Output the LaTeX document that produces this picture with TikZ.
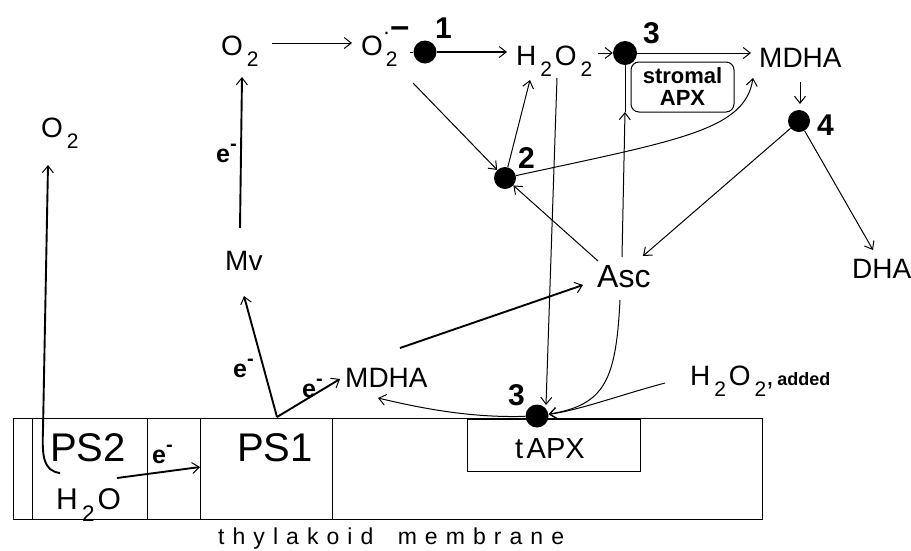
\documentclass[tikz,border=0pt]{standalone}
\usepackage{fontspec}
\setmainfont{Liberation Sans}
\newfontfamily\spacedfont[LetterSpace=35]{Liberation Sans}
\usetikzlibrary{arrows.meta}
\newcommand\fsz[1]{\fontsize{#1}{#1}\selectfont}
\newcommand\lo[1]{\kern0.14em\raisebox{-0.42em}{\scalebox{0.75}{#1}}\kern0.1em}
\newcommand\elec{e\raisebox{0.45em}{\scalebox{0.8}{-}}}
\begin{document}
\begin{tikzpicture}[x=1pt,y=-1pt,
  tip/.style={-{Straight Barb[length=7pt,width=11pt,line width=1pt]}},
  thn/.style={line width=1pt},
  thk/.style={line width=1.9pt},
  lab/.style={inner sep=0pt,anchor=base west,font=\fsz{28}},
  big/.style={inner sep=0pt,anchor=base west,font=\fsz{40}},
  num/.style={inner sep=0pt,anchor=base west,font=\fsz{30}\bfseries},
  el/.style={inner sep=0pt,anchor=base west,font=\fsz{25}\bfseries},
  dot/.style={circle,fill=black,inner sep=0pt,minimum size=23pt},
  boxline/.style={draw,line width=1pt}]
\useasboundingbox (0,0) rectangle (911,550);
% membrane
\draw[boxline] (13,418) rectangle (762,519);
\foreach \x in {32,147,200,332} \draw[thn] (\x,418) -- (\x,519);
\node[boxline,minimum width=173pt,minimum height=52pt,inner sep=0pt] (tapxbox) at (553.5,445) {};
\node[lab,font=\fsz{29}] (tapx) at (515,458) {t\kern0.12em APX};
\node[big] (ps2) at (50,461) {PS2};
\node[big] (ps1) at (237,461) {PS1};
\node[el] (e3) at (152,463) {\elec};
\node[lab,font=\fsz{30}] (h2o) at (56,509) {H\lo{2}O};
\node[inner sep=0pt,anchor=base west,font=\fsz{23}\spacedfont] (thy) at (218,544) {thylakoid\hspace{10pt} membrane};
% labels
\node[lab] (o2l) at (41,137) {O\lo{2}};
\node[lab] (o2m) at (221,55) {O\lo{2}};
\node[lab] (sup) at (361,55) {O\rlap{\raisebox{-0.42em}{\kern0.1em\scalebox{0.75}{2}}}\raisebox{0.55em}{\scalebox{0.8}{·}}\raisebox{0.62em}{\fsz{34}\bfseries –}};
\node[lab] (h2o2) at (516,65) {H\lo{2}O\lo{2}};
\node[lab] (mdhat) at (759,67) {MDHA};
\node[lab] (mv) at (225,270) {Mv};
\node[lab,font=\fsz{32}] (asc) at (597,287) {Asc};
\node[lab] (dha) at (852,278) {DHA};
\node[lab] (mdhab) at (345,387) {MDHA};
\node[lab] (added) at (690,385) {H\lo{2}O\lo{2}\kern-0.1em,\kern0.12em{\fsz{18}\bfseries added}};
\node[el] (e1) at (216,162) {\elec};
\node[el] (e2) at (233,377) {\elec};
\node[el] (e4) at (302,397) {\elec};
% stromal APX box
\node[boxline,rounded corners=8pt,minimum width=103pt,minimum height=50pt,inner sep=0pt,font=\fsz{22}\bfseries,align=center] (sapx) at (682.5,87) {stromal\\APX};
% dots
\node[dot] (d1) at (425,52) {};
\node[dot,minimum size=22pt] (d2) at (505,178) {};
\node[dot,minimum size=24pt] (d3t) at (625,53) {};
\node[dot,minimum size=22pt] (d4) at (799,121) {};
\node[dot] (d3b) at (537,416) {};
\node[num] (n1) at (435,38) {1};
\node[num] (n2) at (518,168) {2};
\node[num] (n3t) at (643,43) {3};
\node[num] (n4) at (817,135) {4};
\node[num] (n3b) at (508,405) {3};
% coordinates
\coordinate (h2oup) at (60,473);
\coordinate (o2lin) at (48,165);
\coordinate (h2oright) at (117,478);
\coordinate (ps1in) at (200,467);
\coordinate (mvtop) at (240,228);
\coordinate (o2min) at (242,77);
\coordinate (o2mout) at (272,43);
\coordinate (supin) at (352,43);
\coordinate (d1tick) at (410,52);
\coordinate (h2o2in) at (507,52);
\coordinate (supout) at (413,83);
\coordinate (h2o2bot) at (530,80);
\coordinate (ascnw) at (598,261);
\coordinate (mdhatin) at (753,78);
\coordinate (h2o2r) at (598,53);
\coordinate (mdhatw) at (751,53);
\coordinate (asctop) at (622,257);
\coordinate (sapxtip) at (625,112);
\coordinate (mdhatbot) at (800,82);
\coordinate (d4in) at (800,104);
\coordinate (ascne) at (643,256);
\coordinate (dhatop) at (873,250);
\coordinate (h2o2down) at (557,78);
\coordinate (d3bin) at (546,405);
\coordinate (ascbot) at (620,300);
\coordinate (addedw) at (665,383);
\coordinate (mdhabin) at (378,398);
\coordinate (ps1top) at (277,417);
\coordinate (mvbot) at (244,296);
\coordinate (mdhabw) at (340,379);
\coordinate (mdhabne) at (400,348);
\coordinate (ascsw) at (583,285);
% connectors
\draw[thk,tip] (h2oup) .. controls (43,471) and (42,455) .. (43,430) -- (o2lin);
\draw[thk,tip] (h2oright) -- (ps1in);
\draw[thk,tip] (mvtop) -- (o2min);
\draw[thn,tip] (o2mout) -- (supin);
\draw[thn] (d1tick) -- (d1);
\draw[line width=1.4pt,tip] (d1) -- (h2o2in);
\draw[thn,tip] (supout) -- (d2);
\draw[thn,tip] (d2) -- (h2o2bot);
\draw[thn,tip] (ascnw) -- (d2);
\draw[thn,tip] (d2) .. controls (680,140) and (745,130) .. (mdhatin);
\draw[thn,tip] (h2o2r) -- (d3t);
\draw[thn,tip] (d3t) -- (mdhatw);
\draw[thn,tip] (asctop) -- (sapxtip);
\draw[thn] (sapxtip) -- (d3t);
\draw[thn,tip] (mdhatbot) -- (d4in);
\draw[thn,tip] (d4) -- (ascne);
\draw[thn,tip] (d4) -- (dhatop);
\draw[thn,tip] (h2o2down) -- (d3bin);
\draw[thn,tip] (ascbot) .. controls (616,380) and (605,405) .. (d3b);
\draw[thn,tip] (addedw) .. controls (620,395) and (580,410) .. (d3b);
\draw[thn,tip] (d3b) .. controls (470,418) and (420,408) .. (mdhabin);
\draw[thk,tip] (ps1top) -- (mvbot);
\draw[thk,tip] (ps1top) -- (mdhabw);
\draw[thk,tip] (mdhabne) -- (ascsw);
\end{tikzpicture}
\end{document}
